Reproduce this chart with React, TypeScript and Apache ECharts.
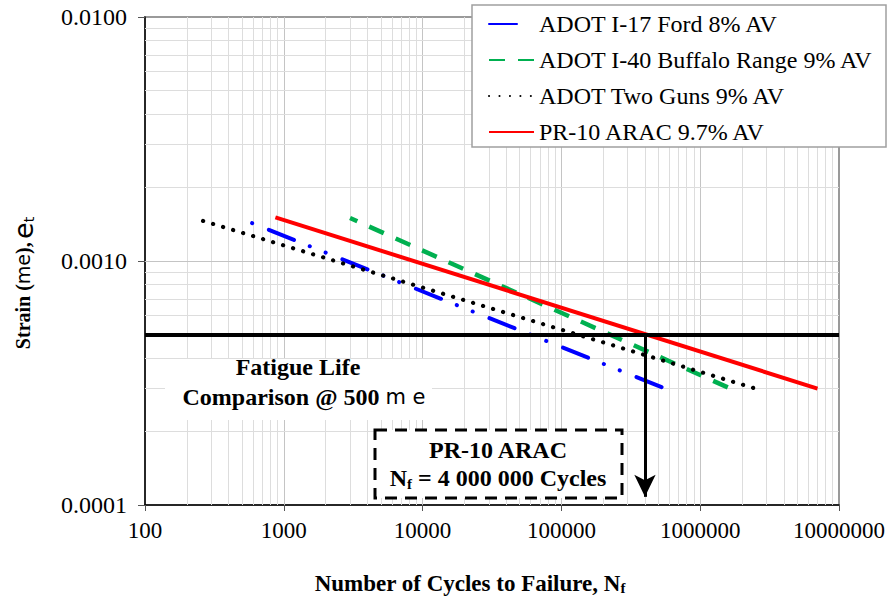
import React, { useEffect, useRef } from "react";
import * as echarts from "echarts";

// ---- Data ----
const seriesNames = [
  "ADOT I-17 Ford 8% AV",
  "ADOT I-40 Buffalo Range 9% AV",
  "ADOT Two Guns 9% AV",
  "PR-10 ARAC 9.7% AV",
];
const seriesColors = ["#0000ff", "#00b050", "#000000", "#ff0000"];
const fordCycles = [590, 560000];
const fordStrain = [0.00143, 0.0003];
const buffaloCycles = [3000, 1650000];
const buffaloStrain = [0.0015, 0.0003];
const twoGunsCycles = [262, 2500000];
const twoGunsStrain = [0.00146, 0.0003];
const aracCycles = [870, 7000000];
const aracStrain = [0.00151, 0.0003];

const referenceStrain = 0.0005; // 500 microstrain line
const aracLifeAtReference = 400000; // arrow position
const arrowEndStrain = 0.000108;

const xMin = 100;
const xMax = 10000000;
const yMin = 0.0001;
const yMax = 0.01;
const xDecades = [100, 1000, 10000, 100000, 1000000];
const yDecades = [0.0001, 0.001];
const minorMultipliers = [2, 3, 4, 5, 6, 7, 8, 9];

const SERIF = '"Liberation Serif", "Times New Roman", serif';
const SANS = '"DejaVu Sans", sans-serif';

function pairs(xs: number[], ys: number[]) {
  return xs.map((x, i) => [x, ys[i]]);
}

export default function App() {
  const ref = useRef<HTMLDivElement>(null);

  useEffect(() => {
    if (!ref.current) return;
    document.body.style.margin = "0";
    document.body.style.overflow = "hidden";
    const chart = echarts.init(ref.current, undefined, { renderer: "svg" });

    const minorStyle = { color: "#dddddd", width: 1, type: "solid" };
    const majorStyle = { color: "#c4c4c4", width: 1, type: "solid" };
    const vLine = (x: number, style: any) => [
      { coord: [x, yMin], lineStyle: style },
      { coord: [x, yMax] },
    ];
    const hLine = (y: number, style: any) => [
      { coord: [xMin, y], lineStyle: style },
      { coord: [xMax, y] },
    ];
    const gridLines: any[] = [];
    xDecades.forEach((d, i) => {
      if (i > 0) gridLines.push(vLine(d, majorStyle));
      minorMultipliers.forEach((m) => gridLines.push(vLine(d * m, minorStyle)));
    });
    yDecades.forEach((d, i) => {
      if (i > 0) gridLines.push(hLine(d, majorStyle));
      minorMultipliers.forEach((m) => gridLines.push(hLine(d * m, minorStyle)));
    });

    const subStyle = {
      fontSize: 15,
      fontWeight: "bold",
      fontFamily: SERIF,
      color: "#000",
      verticalAlign: "bottom",
      lineHeight: 10,
    };

    const lineSeries = (i: number, data: number[][], lineStyle: any) => ({
      name: seriesNames[i],
      type: "line",
      data,
      symbol: "none",
      showSymbol: false,
      z: 3,
      itemStyle: { color: seriesColors[i] },
      lineStyle: { color: seriesColors[i], ...lineStyle },
    });

    chart.setOption({
      animation: false,
      backgroundColor: "#fff",
      grid: {
        left: 145,
        right: 50,
        top: 17,
        bottom: 96,
        show: true,
        borderColor: "#9a9a9a",
        borderWidth: 2,
        backgroundColor: "transparent",
      },
      legend: {
        data: [
          { name: seriesNames[0], lineStyle: { type: [28, 30], dashOffset: 0 } },
          seriesNames[1],
          seriesNames[2],
          seriesNames[3],
        ],
        orient: "vertical",
        left: 472,
        top: 5,
        padding: [7, 6, 4, 16],
        itemGap: 12,
        itemWidth: 45,
        itemHeight: 14,
        backgroundColor: "transparent",
        borderWidth: 0,
        selectedMode: false,
        itemStyle: { opacity: 0 },
        lineStyle: { dashOffset: 0 },
        textStyle: { fontFamily: SERIF, fontSize: 24, color: "#000", lineHeight: 24 },
        z: 10,
      },
      xAxis: {
        type: "log",
        logBase: 10,
        min: xMin,
        max: xMax,
        axisLine: { show: true, lineStyle: { color: "#000", width: 1.5 } },
        axisTick: { show: true, length: 6, lineStyle: { color: "#555" } },
        axisLabel: {
          formatter: (v: number) => String(Math.round(v)),
          fontFamily: SERIF,
          fontSize: 23,
          color: "#000",
          margin: 14,
        },
        splitLine: { show: false },
        name: "Number of Cycles to Failure, N{sub|f}",
        nameLocation: "middle",
        nameGap: 66,
        nameTextStyle: {
          fontFamily: SERIF,
          fontSize: 23,
          fontWeight: "bold",
          color: "#000",
          lineHeight: 24,
          padding: [0, 44, 0, 0],
          rich: { sub: subStyle },
        },
      },
      yAxis: {
        type: "log",
        logBase: 10,
        min: yMin,
        max: yMax,
        axisLine: { show: true, lineStyle: { color: "#000", width: 1.5 } },
        axisTick: { show: true, length: 7, lineStyle: { color: "#555" } },
        axisLabel: {
          formatter: (v: number) => v.toFixed(4),
          fontFamily: SERIF,
          fontSize: 24,
          color: "#000",
          margin: 18,
        },
        splitLine: { show: false },
      },
      series: [
        {
          name: "__grid",
          type: "line",
          data: [],
          silent: true,
          z: 1,
          markLine: {
            z: 1,
            silent: true,
            symbol: "none",
            label: { show: false },
            animation: false,
            data: gridLines,
          },
        },
        lineSeries(0, pairs(fordCycles, fordStrain), {
          width: 4,
          type: [27, 17, 0.1, 17, 0.1, 18],
          dashOffset: 61,
          cap: "round",
        }),
        lineSeries(1, pairs(buffaloCycles, buffaloStrain), {
          width: 4.5,
          type: [16, 13],
          dashOffset: 8,
        }),
        lineSeries(2, pairs(twoGunsCycles, twoGunsStrain), {
          width: 4.2,
          type: [0.1, 10.35],
          cap: "round",
        }),
        lineSeries(3, pairs(aracCycles, aracStrain), { width: 4, type: "solid" }),
        {
          name: "__reference",
          type: "line",
          data: [],
          silent: true,
          z: 4,
          markLine: {
            z: 6,
            silent: true,
            label: { show: false },
            animation: false,
            data: [
              [
                {
                  coord: [xMin, referenceStrain],
                  symbol: "none",
                  lineStyle: { color: "#000", width: 4, type: "solid" },
                },
                { coord: [xMax, referenceStrain], symbol: "none" },
              ],
              [
                {
                  coord: [aracLifeAtReference, referenceStrain],
                  symbol: "none",
                  lineStyle: { color: "#000", width: 3, type: "solid" },
                },
                {
                  coord: [aracLifeAtReference, arrowEndStrain],
                  symbol: "arrow",
                  symbolSize: [16, 22],
                },
              ],
            ],
          },
        },
      ],
      graphic: [
        // legend frame
        {
          type: "rect",
          z: 9,
          shape: { x: 472, y: 5, width: 414, height: 142 },
          style: { fill: "#fff", stroke: "#a0a0a0", lineWidth: 1.5 },
        },
        // y axis title
        {
          type: "text",
          z: 21,
          x: 23,
          y: 283,
          rotation: Math.PI / 2,
          style: {
            text: "{b|Strain (}{s|me}{b|),} {e|e}{t|t}",
            align: "center",
            verticalAlign: "middle",
            rich: {
              b: { fontFamily: SERIF, fontSize: 20, fontWeight: "bold", fill: "#000", lineHeight: 26 },
              s: { fontFamily: SANS, fontSize: 19, fill: "#000", lineHeight: 26 },
              e: { fontFamily: SANS, fontSize: 27, fill: "#000", lineHeight: 26 },
              t: { fontFamily: SANS, fontSize: 14, fill: "#000", verticalAlign: "bottom", lineHeight: 10 },
            },
          },
        },
        { type: "rect", z: 20, shape: { x: 165, y: 359, width: 267, height: 61 }, style: { fill: "#fff" } },
        {
          type: "text",
          z: 21,
          x: 298,
          y: 367,
          style: {
            text: "Fatigue Life",
            font: `bold 24px ${SERIF}`,
            fill: "#000",
            align: "center",
            verticalAlign: "middle",
          },
        },
        {
          type: "text",
          z: 21,
          x: 304,
          y: 397,
          style: {
            text: "{b|Comparison @ 500 }{s|m e}",
            align: "center",
            verticalAlign: "middle",
            rich: {
              b: { fontFamily: SERIF, fontSize: 24, fontWeight: "bold", fill: "#000", lineHeight: 26 },
              s: { fontFamily: SANS, fontSize: 21, fill: "#000", lineHeight: 26 },
            },
          },
        },
        {
          type: "rect",
          z: 20,
          shape: { x: 375, y: 430, width: 247, height: 68 },
          style: { fill: "#fff", stroke: "#000", lineWidth: 3, lineDash: [12, 8] },
        },
        {
          type: "text",
          z: 21,
          x: 498,
          y: 450,
          style: {
            text: "PR-10 ARAC",
            font: `bold 24px ${SERIF}`,
            fill: "#000",
            align: "center",
            verticalAlign: "middle",
          },
        },
        {
          type: "text",
          z: 21,
          x: 498,
          y: 478,
          style: {
            text: "{b|N}{sub|f}{b| = 4 000 000 Cycles}",
            align: "center",
            verticalAlign: "middle",
            rich: {
              b: { fontFamily: SERIF, fontSize: 24, fontWeight: "bold", fill: "#000", lineHeight: 26 },
              sub: { fontFamily: SERIF, fontSize: 15, fontWeight: "bold", fill: "#000", verticalAlign: "bottom", lineHeight: 10 },
            },
          },
        },
      ],
    });

    return () => chart.dispose();
  }, []);

  return <div ref={ref} style={{ width: 889, height: 601 }} />;
}
